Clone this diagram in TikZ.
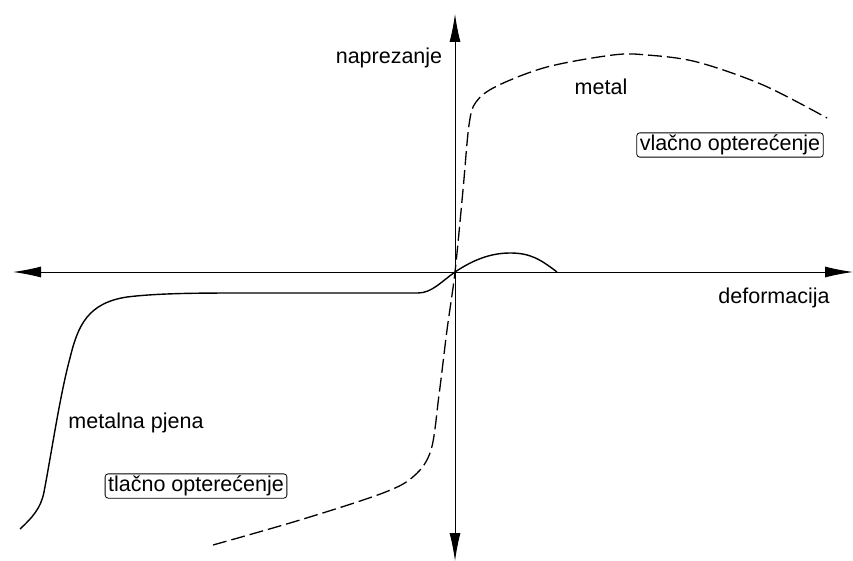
\documentclass[tikz,border=0pt]{standalone}
\usepackage{fontspec}
\setmainfont{Liberation Sans}
\usetikzlibrary{arrows.meta}
\begin{document}
\begin{tikzpicture}[x=1pt,y=-1pt,
  axis/.style={line width=0.9pt,-{Latex[length=28pt,width=11pt]}},
  lbl/.style={font=\fontsize{21.5}{25}\selectfont,inner sep=0pt},
  boxlbl/.style={lbl,draw,rounded corners=3pt,line width=0.8pt,inner xsep=3pt,inner ysep=2pt},
  metalcurve/.style={line width=1.3pt,dash pattern=on 14pt off 5pt},
  foamcurve/.style={line width=1.4pt}]
\useasboundingbox (0,0) rectangle (853,561);
\coordinate (O) at (455,272);
\coordinate (xl) at (13,272);
\coordinate (xr) at (853,272);
\coordinate (yt) at (455,14);
\coordinate (yb) at (455,561);
\draw[axis] (O) -- (xl);
\draw[axis] (O) -- (xr);
\draw[axis] (O) -- (yt);
\draw[axis] (O) -- (yb);
% metal (dashed)
\draw[metalcurve] plot[smooth,tension=0.55] coordinates {
 (213,545) (300,520) (383,493) (414,476) (431,450) (439,395) (447,330) (455,272)
 (463,190) (469,125) (476,102) (497,86) (547,67) (613,55) (647,55) (697,62) (763,85) (827,118)};
% metal foam (solid)
\draw[foamcurve] (20,529) .. controls (32,518) and (41,508) .. (44,492)
  .. controls (52,450) and (60,395) .. (70,358)
  .. controls (78,325) and (88,303) .. (127,297)
  .. controls (160,293) and (200,293) .. (250,293)
  -- (418,293)
  .. controls (432,293) and (442,281) .. (O)
  .. controls (470,262) and (488,253) .. (510,253)
  .. controls (530,253) and (540,259) .. (557,272);
\node[lbl] (napr) at (389,58) {naprezanje};
\node[lbl] (def) at (774,298) {deformacija};
\node[lbl] (met) at (601,87) {metal};
\node[lbl] (mp) at (136,423) {metalna pjena};
\node[boxlbl] (vl) at (730,145) {vlačno opterećenje};
\node[boxlbl] (tl) at (196,486) {tlačno opterećenje};
\end{tikzpicture}
\end{document}
